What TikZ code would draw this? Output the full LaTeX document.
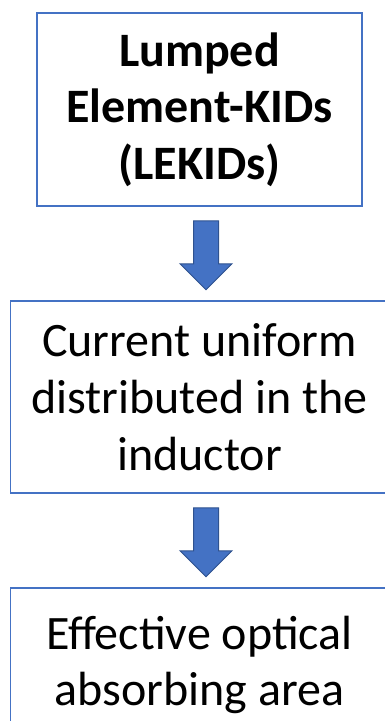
\documentclass[tikz,border=0pt]{standalone}
\usepackage{fontspec}
\setmainfont{Carlito}
\usetikzlibrary{calc}
\definecolor{boxblue}{HTML}{4472C4}
\definecolor{arrowedge}{HTML}{2F528F}
\tikzset{
  box/.style={draw=boxblue, line width=1.5pt, rectangle, inner sep=0pt, align=center,
    font=\fontsize{48}{56.7}\selectfont},
  downarrow/.pic={
    \draw[fill=boxblue, draw=arrowedge, line width=1pt, line join=miter]
      (-12.5,0) -- (12.5,0) -- (12.5,43) -- (26,43) -- (0,69) -- (-26,43) -- (-12.5,43) -- cycle;
  }
}
\begin{document}
\begin{tikzpicture}[x=1pt,y=-1pt]
\clip (0,0) rectangle (385,721);
\node[box, minimum width=325pt, minimum height=193pt, font=\fontsize{48}{56.7}\selectfont\bfseries]
  (b1) at (199.5,109.5) {Lumped\\Element-KIDs\\(LEKIDs)};
\node[box, minimum width=378pt, minimum height=192pt] (b2) at (199.5,397) {Current uniform\\distributed in the\\inductor};
\node[box, minimum width=378pt, minimum height=154pt] (b3) at (199.5,665) {Effective optical\\absorbing area};
\coordinate (a1) at ($(b1.south)+(6.5,14)$);
\coordinate (a2) at ($(b2.south)+(6.5,14)$);
\pic at (a1) {downarrow};
\pic at (a2) {downarrow};
\end{tikzpicture}
\end{document}
